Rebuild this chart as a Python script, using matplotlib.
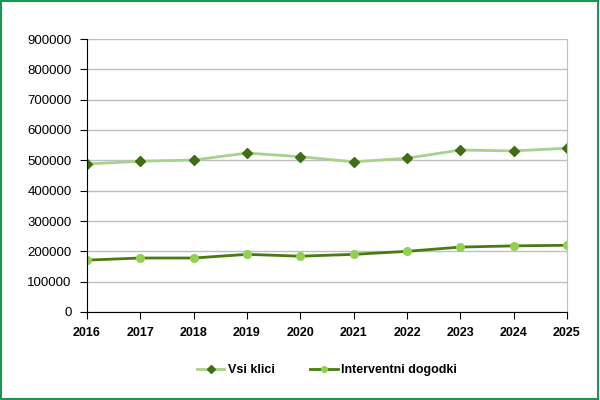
import matplotlib.pyplot as plt
from matplotlib.patches import Rectangle

years = [2016, 2017, 2018, 2019, 2020, 2021, 2022, 2023, 2024, 2025]
vsi_klici = [488000, 497000, 501000, 524000, 512000, 495000, 507000, 534000, 531000, 540000]
interventni = [171000, 178000, 178000, 190000, 184000, 190000, 200000, 214000, 218000, 220000]
y_ticks = list(range(0, 900001, 100000))

plt.rcParams['font.family'] = ['Liberation Sans', 'DejaVu Sans']

fig = plt.figure(figsize=(6, 4), dpi=100)
ax = fig.add_axes([0.145, 0.22, 0.8, 0.6825])

ax.plot(years, vsi_klici, color='#a9d18e', lw=2, marker='D', ms=5.5,
        mfc='#3f6f12', mec='#3f6f12', label='Vsi klici')
ax.plot(years, interventni, color='#4a7a12', lw=2, marker='o', ms=5.5,
        mfc='#92d050', mec='#92d050', label='Interventni dogodki')

ax.set_xlim(2016, 2025)
ax.set_ylim(0, 900000)
ax.set_xticks(years)
ax.set_yticks(y_ticks)
ax.set_xticklabels([str(y) for y in years], fontweight='bold', fontsize=9)
ax.set_yticklabels([str(v) for v in y_ticks], fontsize=9.5)
ax.grid(axis='y', color='#bfbfbf', lw=1)
ax.set_axisbelow(True)
ax.spines['top'].set_visible(False)
ax.spines['right'].set_color('#bfbfbf')
ax.spines['left'].set_color('black')
ax.spines['bottom'].set_color('black')
ax.tick_params(axis='both', direction='out', length=5, color='black')
ax.tick_params(axis='y', pad=6)
ax.tick_params(axis='x', pad=6)

fig.legend(loc='center', bbox_to_anchor=(0.545, 0.075), ncol=2, frameon=False,
           prop={'weight': 'bold', 'size': 9}, handlelength=2.2, handletextpad=0.3,
           columnspacing=2.8, markerscale=0.75)

# green frame round the whole picture
fig.patches.append(Rectangle((0.002, 0.003), 0.995, 0.994, transform=fig.transFigure,
                             fill=False, ec='#1a9850', lw=1.5))

fig.savefig('out.png', dpi=100)
